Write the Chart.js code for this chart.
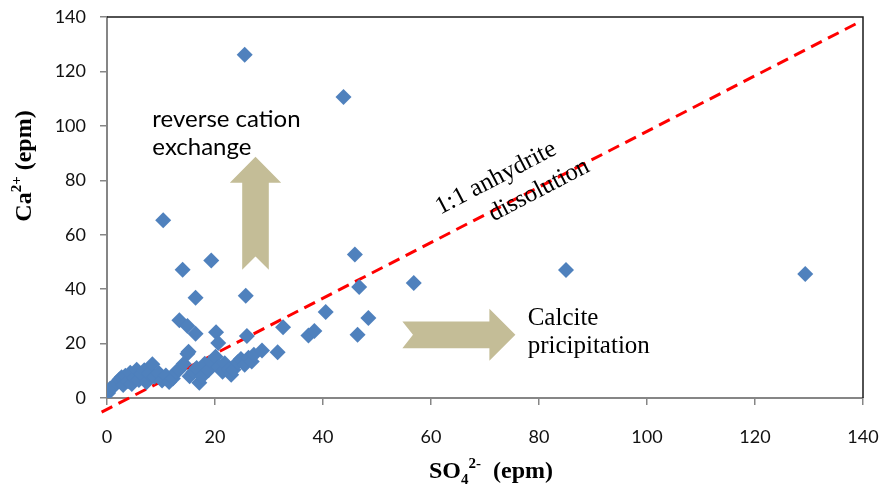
<!DOCTYPE html>
<html>
<head>
<meta charset="utf-8">
<script src="https://cdn.jsdelivr.net/npm/chart.js@4.4.1/dist/chart.umd.min.js"></script>
<style>
html, body { margin: 0; padding: 0; background: #fff; }
</style>
</head>
<body>
<canvas id="chart" width="894" height="497"></canvas>
<script>
// SO4 (x) and Ca (y) in epm
const so4 = [
	0.2, 0.6, 1.2, 1.8, 2.3, 2.7, 3.0, 3.4, 3.9, 4.3, 4.6, 5.1, 5.5, 5.9, 6.4, 6.9, 7.3, 7.8, 8.4, 8.8,
	9.6, 10.2, 10.9, 11.5, 12.2, 12.8, 13.4, 14.2, 14.9, 15.3, 16.0, 16.6, 17.1, 17.6, 18.1, 18.8, 19.3, 20.1, 20.7, 21.4,
	21.8, 22.6, 23.0, 23.4, 24.2, 24.8, 25.5, 26.2, 26.8, 27.2, 28.7,
	13.4, 14.9, 16.4, 15.1, 20.2, 20.6, 25.9, 32.6, 31.6, 37.3, 38.4, 40.5, 46.4, 48.4,
	10.4, 14.0, 19.3, 16.4, 25.7, 25.5, 43.8, 45.9, 46.7, 56.8, 85.0, 129.3
];
const ca = [
	1.8, 3.5, 4.2, 5.6, 6.8, 7.6, 4.8, 8.2, 6.2, 9.3, 5.1, 7.4, 10.4, 6.6, 8.8, 10.2, 5.8, 9.0, 12.4, 7.8,
	9.2, 6.4, 8.3, 5.9, 7.2, 9.6, 10.5, 12.6, 16.3, 8.0, 9.5, 11.0, 5.6, 7.9, 12.6, 10.2, 13.3, 15.2, 11.4, 9.6,
	12.8, 10.6, 8.5, 10.4, 13.1, 14.3, 12.2, 14.8, 13.4, 15.9, 17.5,
	28.6, 26.5, 23.6, 17.0, 24.2, 20.2, 22.8, 26.0, 16.8, 23.0, 24.6, 31.6, 23.2, 29.4,
	65.3, 47.1, 50.5, 36.8, 37.6, 126.1, 110.6, 52.7, 40.8, 42.3, 47.0, 45.6
];
// 1:1 line end points
const lineX = [-1.0, 138.7];
const lineY = [-5.2, 137.5];

const xTicks = [0, 20, 40, 60, 80, 100, 120, 140];
const yTicks = [0, 20, 40, 60, 80, 100, 120, 140];

const points = so4.map((v, i) => ({ x: v, y: ca[i] }));
const linePts = lineX.map((v, i) => ({ x: v, y: lineY[i] }));

const arrowColor = '#c4bd97';

function drawParts(c, parts, x, y) {
	// parts: text pieces with font and vertical shift, drawn left to right
	let w = 0;
	parts.forEach(p => { c.font = p.font; w += c.measureText(p.t).width; });
	let px = x - w / 2;
	parts.forEach(p => {
		c.font = p.font;
		c.fillText(p.t, px, y + (p.dy || 0));
		px += c.measureText(p.t).width;
	});
}

const extras = {
	id: 'extras',
	beforeDatasetsDraw(chart) {
		const c = chart.ctx, xs = chart.scales.x, ys = chart.scales.y;
		c.save();
		c.fillStyle = arrowColor;
		// up arrow
		let bx = xs.getPixelForValue(27.5), by = ys.getPixelForValue(47.1);
		c.beginPath();
		c.moveTo(bx - 13.3, by);
		c.lineTo(bx - 13.3, by - 87);
		c.lineTo(bx - 25.7, by - 87);
		c.lineTo(bx, by - 113);
		c.lineTo(bx + 25.7, by - 87);
		c.lineTo(bx + 13.3, by - 87);
		c.lineTo(bx + 13.3, by);
		c.lineTo(bx, by - 13.3);
		c.closePath();
		c.fill();
		// right arrow
		let lx = xs.getPixelForValue(54.7), ly = ys.getPixelForValue(23.2);
		c.beginPath();
		c.moveTo(lx, ly - 13.3);
		c.lineTo(lx + 87, ly - 13.3);
		c.lineTo(lx + 87, ly - 26);
		c.lineTo(lx + 113, ly);
		c.lineTo(lx + 87, ly + 26);
		c.lineTo(lx + 87, ly + 13.3);
		c.lineTo(lx, ly + 13.3);
		c.lineTo(lx + 10.6, ly);
		c.closePath();
		c.fill();
		c.restore();
	},
	afterDraw(chart) {
		const c = chart.ctx, a = chart.chartArea, xs = chart.scales.x, ys = chart.scales.y;
		c.save();
		// frame on top and right
		c.strokeStyle = '#1a1a1a';
		c.lineWidth = 1.5;
		c.beginPath();
		c.moveTo(a.left, a.top);
		c.lineTo(a.right, a.top);
		c.lineTo(a.right, a.bottom);
		c.stroke();

		c.fillStyle = '#000';
		c.textBaseline = 'alphabetic';
		c.textAlign = 'left';
		c.font = '24px Lato';
		c.fillText('reverse cation', xs.getPixelForValue(8.4), ys.getPixelForValue(99.7));
		c.fillText('exchange', xs.getPixelForValue(8.4), ys.getPixelForValue(89.3));

		c.font = '25px "Liberation Serif"';
		c.fillText('Calcite', xs.getPixelForValue(77.9), ys.getPixelForValue(26.8));
		c.fillText('pricipitation', xs.getPixelForValue(77.9), ys.getPixelForValue(16.5));

		// rotated label along the 1:1 line
		c.textAlign = 'center';
		c.save();
		c.translate(xs.getPixelForValue(72.6), ys.getPixelForValue(78.6));
		c.rotate(-27.5 * Math.PI / 180);
		c.fillText('1:1 anhydrite', 0, 0);
		c.restore();
		c.save();
		c.translate(xs.getPixelForValue(80.6), ys.getPixelForValue(74.2));
		c.rotate(-27.5 * Math.PI / 180);
		c.fillText('dissolution', 0, 0);
		c.restore();

		// axis titles
		c.textAlign = 'left';
		const big = 'bold 24px "Liberation Serif"', small = 'bold 15px "Liberation Serif"';
		drawParts(c, [
			{ t: 'SO', font: big },
			{ t: '4', font: small, dy: 6 },
			{ t: '2-', font: small, dy: -10 },
			{ t: '  (epm)', font: big }
		], 491, 478);
		c.save();
		c.translate(31, 166);
		c.rotate(-Math.PI / 2);
		drawParts(c, [
			{ t: 'Ca', font: big },
			{ t: '2+', font: small, dy: -10 },
			{ t: ' (epm)', font: big }
		], 0, 0);
		c.restore();
		c.restore();
	}
};

const ctx = document.getElementById('chart');
const chart = new Chart(ctx, {
	type: 'scatter',
	data: {
		datasets: [{
			type: 'line',
			label: '1:1',
			data: linePts,
			borderColor: '#ff0000',
			borderWidth: 3,
			borderDash: [12, 7],
			pointRadius: 0,
			fill: false,
			clip: false,
			order: 2
		}, {
			label: 'samples',
			data: points,
			pointStyle: 'rectRot',
			pointRadius: 8,
			pointHoverRadius: 8,
			backgroundColor: '#4f81bd',
			borderWidth: 0,
			order: 1
		}]
	},
	options: {
		responsive: false,
		animation: false,
		layout: { padding: { left: 0, right: 31, top: 17, bottom: 0 } },
		plugins: { legend: { display: false }, tooltip: { enabled: false } },
		scales: {
			x: {
				type: 'linear',
				min: 0,
				max: 140,
				afterBuildTicks: s => { s.ticks = xTicks.map(v => ({ value: v })); },
				afterFit: s => { s.height = 99; s.paddingLeft = 0; s.paddingRight = 0; },
				grid: { drawOnChartArea: false, tickLength: 7, color: '#868686', lineWidth: 1.5 },
				border: { color: '#868686', width: 2 },
				ticks: { color: '#111', padding: 21, font: { family: 'Lato', size: 18 } }
			},
			y: {
				type: 'linear',
				min: 0,
				max: 140,
				afterBuildTicks: s => { s.ticks = yTicks.map(v => ({ value: v })); },
				afterFit: s => { s.width = 107; s.paddingTop = 0; s.paddingBottom = 0; },
				grid: { drawOnChartArea: false, tickLength: 7, color: '#868686', lineWidth: 1.5 },
				border: { color: '#868686', width: 2 },
				ticks: { color: '#111', padding: 14, font: { family: 'Lato', size: 18 } }
			}
		}
	},
	plugins: [extras]
});
</script>
</body>
</html>
